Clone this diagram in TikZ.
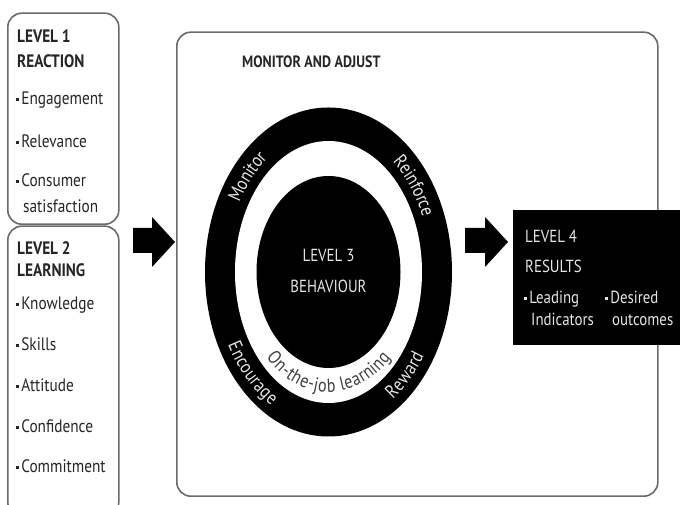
\documentclass[tikz,border=0pt]{standalone}
\usepackage{fontspec}
\setmainfont{PT Sans}[FakeStretch=0.85]
\usetikzlibrary{shapes.geometric,decorations.text,calc}
\definecolor{boxgray}{gray}{0.42}
\definecolor{lighttext}{gray}{0.9}
\definecolor{darktext}{gray}{0.25}
\newcommand\bul{\raisebox{4pt}{\rule{2.6pt}{2.6pt}}\hspace{2.5pt}}
\newcommand\ringfont{\fontsize{19}{21}\selectfont}
\begin{document}
\begin{tikzpicture}[x=1pt,y=1pt,
  box/.style={draw=boxgray, line width=1.6pt, rounded corners=14pt, inner sep=0pt},
  txt/.style={anchor=base west, inner sep=0pt, font=\fontsize{18}{21}\selectfont, text=black!85},
  head/.style={txt, font=\fontsize{18}{21}\selectfont\bfseries},
  wtxt/.style={txt, text=lighttext, font=\fontsize{17.5}{21}\selectfont},
  blockarrow/.style={fill=black},
  ringtext/.style={decorate, decoration={text along path, text align=center, raise=-6pt, text color=#1}}]
\useasboundingbox (0,0) rectangle (680,505);
\clip (0,0) rectangle (680,505);
\fill[white] (0,0) rectangle (680,505);

% left boxes
\node[box, minimum width=111pt, minimum height=211pt, anchor=south west] (b1) at (7,280) {};
\node[box, minimum width=111pt, minimum height=290pt, anchor=south west] (b2) at (7,-12) {};

% main box
\node[box, minimum width=481pt, minimum height=464pt, anchor=south west] (mainbox) at (176,8) {};

% level 1 texts
\node[head] (l1a) at (17,462) {LEVEL 1};
\node[head] (l1b) at (17,437) {REACTION};
\node[txt] (l1c) at (16,400) {\bul Engagement};
\node[txt] (l1d) at (16,357) {\bul Relevance};
\node[txt] (l1e) at (16,318) {\bul Consumer};
\node[txt] (l1f) at (23,292) {satisfaction};

% level 2 texts
\node[head] (l2a) at (17,250) {LEVEL 2};
\node[head] (l2b) at (17,228) {LEARNING};
\node[txt] (l2c) at (16,195) {\bul Knowledge};
\node[txt] (l2d) at (16,154) {\bul Skills};
\node[txt] (l2e) at (16,113) {\bul Attitude};
\node[txt] (l2f) at (16,72) {\bul Confidence};
\node[txt] (l2g) at (16,32) {\bul Commitment};

% arrows
\fill[blockarrow] (133,252) -- (152,252) -- (152,238) -- (175,263) -- (152,288) -- (152,277) -- (133,277) -- cycle;
\fill[blockarrow] (465,252) -- (485,252) -- (485,238) -- (508,263) -- (485,288) -- (485,277) -- (465,277) -- cycle;

% monitor and adjust
\node[head, font=\fontsize{16.4}{19}\selectfont\bfseries] (ma) at (242,437) {MONITOR AND ADJUST};

% rings
\coordinate (C) at (328.5,233);
\node[ellipse, fill=black, inner sep=0pt, minimum width=247pt, minimum height=329pt] (outer) at (C) {};
\node[ellipse, fill=white, inner sep=0pt, minimum width=187pt, minimum height=262pt] (ring) at (C) {};
\node[ellipse, fill=black, inner sep=0pt, minimum width=144pt, minimum height=192pt] (core) at (C) {};

\node[wtxt, anchor=base] (l3a) at (328.5,243) {LEVEL 3};
\node[wtxt, anchor=base] (l3b) at (328.5,212) {BEHAVIOUR};

% ring texts
\path[ringtext=lighttext, decoration={text={|\ringfont|Monitor}}]
  ($(C)+(163:108pt and 148pt)$) arc[start angle=163, end angle=113, x radius=108pt, y radius=148pt];
\path[ringtext=lighttext, decoration={text={|\ringfont|Reinforce}}]
  ($(C)+(68:108pt and 148pt)$) arc[start angle=68, end angle=8, x radius=108pt, y radius=148pt];
\path[ringtext=lighttext, decoration={text={|\ringfont|Encourage}}]
  ($(C)+(196:108pt and 148pt)$) arc[start angle=196, end angle=256, x radius=108pt, y radius=148pt];
\path[ringtext=lighttext, decoration={text={|\ringfont|Reward}}]
  ($(C)+(289:108pt and 148pt)$) arc[start angle=289, end angle=339, x radius=108pt, y radius=148pt];
\path[ringtext=darktext, decoration={text={|\ringfont|On-the-job learning}}]
  ($(C)+(205:83pt and 114pt)$) arc[start angle=205, end angle=335, x radius=83pt, y radius=114pt];

% level 4
\node[fill=black, inner sep=0pt, minimum width=170pt, minimum height=135pt, anchor=north west] (l4) at (513,295) {};
\node[wtxt] (l4a) at (525,262) {LEVEL 4};
\node[wtxt] (l4b) at (525,232) {RESULTS};
\node[txt, text=lighttext, font=\fontsize{17.5}{21}\selectfont, color=lighttext] (l4c) at (524,201) {\bul Leading};
\node[wtxt] (l4d) at (531,179) {Indicators};
\node[txt, text=lighttext, font=\fontsize{17.5}{21}\selectfont, color=lighttext] (l4e) at (605,201) {\bul Desired};
\node[wtxt] (l4f) at (612,179) {outcomes};
\end{tikzpicture}
\end{document}
